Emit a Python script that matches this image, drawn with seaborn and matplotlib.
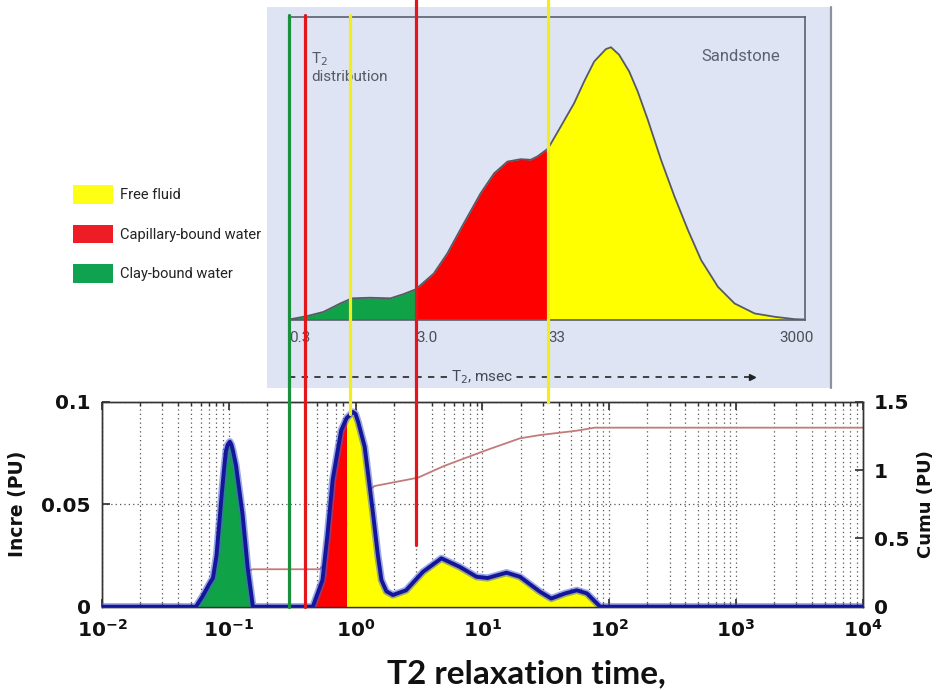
import numpy as np
import matplotlib
matplotlib.use("Agg")
import matplotlib.pyplot as plt
import matplotlib.transforms as mtransforms
from matplotlib.patches import Rectangle, Patch
from matplotlib.lines import Line2D
from matplotlib.ticker import LogLocator, NullLocator
import seaborn as sns

# ---------------------------------------------------------------------------
# Upper panel: idealised sandstone T2 distribution (relative amplitude)
top_t2 = [0.3, 0.414, 0.56, 0.76, 0.94, 1.3, 1.89, 2.4, 3.0, 4.15, 5.3, 7.16,
          9.71, 12.4, 15.8, 20.1, 24.1, 27.2, 33, 41.6, 53, 63.6, 76.3, 94.4,
          103.5, 120, 144, 168, 202, 257, 328, 418, 532, 721, 975, 1403,
          2019, 2910, 3500]
top_amp = [0.0, 0.011, 0.025, 0.053, 0.070, 0.072, 0.070, 0.084, 0.100, 0.152,
           0.218, 0.318, 0.417, 0.483, 0.522, 0.530, 0.528, 0.539, 0.565,
           0.638, 0.715, 0.787, 0.853, 0.894, 0.900, 0.875, 0.820, 0.754,
           0.660, 0.527, 0.406, 0.296, 0.196, 0.108, 0.053, 0.020, 0.009,
           0.001, 0.0]
top_zone_edges = [0.3, 3.0, 33, 3500]
top_tick_values = [0.3, 3.0, 33, 3000]
top_tick_labels = ["0.3", "3.0", "33", "3000"]

# Lower panel: measured incremental and cumulative T2 spectrum
t2_ms = [0.01, 0.055, 0.062, 0.07, 0.075, 0.08, 0.088, 0.092, 0.095, 0.098,
         0.102, 0.105, 0.108, 0.114, 0.1285, 0.141, 0.155, 0.46, 0.548, 0.6,
         0.66, 0.77, 0.85, 0.9, 0.953, 1.0, 1.05, 1.18, 1.37, 1.5, 1.6, 1.75,
         1.97, 2.5, 3.4, 4.75, 6.6, 9.0, 11.0, 15.5, 19.8, 28.5, 35, 45, 55.6,
         66.7, 85, 10000]
incre_pu = [0.0, 0.0, 0.005, 0.011, 0.014, 0.025, 0.055, 0.068, 0.076, 0.079,
            0.0805, 0.079, 0.076, 0.069, 0.045, 0.019, 0.0, 0.0, 0.013, 0.035,
            0.062, 0.086, 0.092, 0.0935, 0.095, 0.094, 0.09, 0.078, 0.046,
            0.025, 0.013, 0.0075, 0.0057, 0.008, 0.017, 0.0236, 0.0195,
            0.0146, 0.014, 0.0166, 0.0146, 0.0073, 0.004, 0.0065, 0.008,
            0.0065, 0.0, 0.0]
cumu_t2_ms = [0.01, 0.055, 0.08, 0.1, 0.12, 0.155, 0.52, 0.7, 0.9, 1.1, 1.41,
              2.0, 3.1, 5.0, 10.8, 19.8, 28.5, 55.6, 77, 10000]
cumu_pu = [0.0, 0.0, 0.05, 0.15, 0.24, 0.274, 0.274, 0.40, 0.65, 0.80, 0.883,
           0.91, 0.944, 1.03, 1.146, 1.232, 1.256, 1.288, 1.31, 1.31]
clay_range = (0.055, 0.155)
capillary_range = (0.46, 0.85)
free_range = (0.85, 85)

# T2 cutoffs drawn across both panels
cutoff_t2 = [0.3, 0.4, 0.9, 3.0, 33]
cutoff_colors = ["#1a8f3c", "#e3161c", "#f2ee1e", "#e3161c", "#f2ee1e"]
cutoff_reach_pu = [0.0, 0.0, 0.094, 0.030, 0.1]
cutoff_from_box = [True, True, True, False, False]

legend_labels = ["Free fluid", "Capillary-bound water", "Clay-bound water"]
legend_colors = ["#ffff14", "#ee1c24", "#0fa24f"]

# ---------------------------------------------------------------------------
YELLOW, RED, GREEN = "#ffff00", "#ff0000", "#10a246"
PANEL = "#dfe4f4"
NARROW = ["Roboto", "DejaVu Sans"]

sns.set_theme(style="white")
plt.rcParams["font.family"] = ["DejaVu Sans"]
plt.rcParams["mathtext.fontset"] = "dejavusans"

W, H = 939, 690
fig = plt.figure(figsize=(W / 100, H / 100), dpi=100)
fig.patch.set_facecolor("white")


def rect(x0, y0, x1, y1):
    return [x0 / W, 1 - y1 / H, (x1 - x0) / W, (y1 - y0) / H]


# lavender backdrop of the schematic
fig.add_artist(Rectangle((267 / W, 1 - 388 / H), 565 / W, 381 / H,
                         transform=fig.transFigure, facecolor=PANEL,
                         edgecolor="none", zorder=-2))
fig.add_artist(Line2D([831 / W, 831 / W], [1 - 388 / H, 1 - 7 / H],
                      transform=fig.transFigure, color="#8d929c", lw=1.6,
                      zorder=-1))

# ---------------- upper schematic ----------------
ax_top = fig.add_axes(rect(289, 17, 805, 319.5))
ax_top.set_facecolor(PANEL)
ax_top.set_xscale("log")
t_top = np.array(top_t2)
a_top = np.array(top_amp)
for (lo, hi), col in zip(zip(top_zone_edges[:-1], top_zone_edges[1:]),
                         [GREEN, RED, YELLOW]):
    m = (t_top >= lo) & (t_top <= hi)
    ax_top.fill_between(t_top[m], 0, a_top[m], color=col, lw=0, zorder=1)
sns.lineplot(x=top_t2, y=top_amp, ax=ax_top, color="#555b66", lw=1.3,
             estimator=None, sort=False, zorder=2)
ax_top.set_xlim(top_zone_edges[0], top_zone_edges[-1])
ax_top.set_ylim(0, 1)
ax_top.set_xticks([])
ax_top.xaxis.set_minor_locator(NullLocator())
ax_top.set_yticks([])
ax_top.set_xlabel("")
ax_top.set_ylabel("")
for sp in ax_top.spines.values():
    sp.set_color("#5a5f6a")
    sp.set_linewidth(1.2)

tb = mtransforms.blended_transform_factory(ax_top.transData, ax_top.transAxes)
for v, lab in zip(top_tick_values, top_tick_labels):
    ax_top.text(v, -0.062, lab, transform=tb, ha="left" if v < 1000 else "center",
                va="center", family=NARROW, fontsize=11, color="#4a4f58",
                clip_on=False)
ax_top.text(0.043, 0.89, "T$_2$\ndistribution", transform=ax_top.transAxes,
            ha="left", va="top", family=NARROW, fontsize=11, color="#555a63",
            linespacing=1.15)
ax_top.text(0.875, 0.868, "Sandstone", transform=ax_top.transAxes,
            ha="center", va="center", family=NARROW, fontsize=12,
            color="#5a6270")

# dashed T2 axis arrow
ax_top.plot([0.3, 1300], [-0.19, -0.19], transform=tb, ls=(0, (3.5, 3.5)),
            lw=1.3, color="#333333", clip_on=False)
ax_top.plot([1340], [-0.19], transform=tb, marker=">", ms=5, color="#222222",
            clip_on=False)
ax_top.text(0.375, -0.19, "T$_2$, msec", transform=ax_top.transAxes,
            ha="center", va="center", family=NARROW, fontsize=11,
            color="#444a55", clip_on=False,
            bbox=dict(facecolor=PANEL, edgecolor="none", pad=1))

# ---------------- lower spectrum ----------------
ax_cum = fig.add_axes(rect(102, 401.7, 862.7, 606.7))
ax_cum.set_xscale("log")
sns.lineplot(x=cumu_t2_ms, y=cumu_pu, ax=ax_cum, color="#c27b7b", lw=1.3,
             estimator=None, sort=False)
ax_cum.set_xlim(1e-2, 1e4)
ax_cum.set_ylim(0, 1.5)

ax_inc = ax_cum.twinx()
ax_inc.set_xscale("log")
t = np.array(t2_ms)
v = np.array(incre_pu)
for (lo, hi), col in zip([clay_range, capillary_range, free_range],
                         [GREEN, RED, YELLOW]):
    m = (t >= lo) & (t <= hi)
    ax_inc.fill_between(t[m], 0, v[m], color=col, lw=0, zorder=1)
sns.lineplot(x=t2_ms, y=incre_pu, ax=ax_inc, color="#4a63d8", lw=5.2,
             alpha=0.55, estimator=None, sort=False, zorder=3)
sns.lineplot(x=t2_ms, y=incre_pu, ax=ax_inc, color="#15159a", lw=2.8,
             estimator=None, sort=False, zorder=4)
ax_inc.set_xlim(1e-2, 1e4)
ax_inc.set_ylim(0, 0.1)

# axes furniture
ax_inc.yaxis.tick_left()
ax_inc.yaxis.set_label_position("left")
ax_cum.yaxis.tick_right()
ax_cum.yaxis.set_label_position("right")

tick_font = dict(fontsize=14.5, fontweight="bold", color="#111111")
ax_inc.set_yticks([0, 0.05, 0.1])
ax_inc.set_yticklabels(["0", "0.05", "0.1"], **tick_font)
ax_cum.set_yticks([0, 0.5, 1, 1.5])
ax_cum.set_yticklabels(["0", "0.5", "1", "1.5"], **tick_font)
decades = [-2, -1, 0, 1, 2, 3, 4]
ax_cum.set_xticks([10.0 ** d for d in decades])
ax_cum.set_xticklabels([r"$\mathbf{10^{%d}}$" % d for d in decades],
                       **tick_font)
ax_cum.xaxis.set_minor_locator(LogLocator(base=10, subs=np.arange(2, 10)))

ax_cum.tick_params(axis="x", which="major", direction="in", length=6,
                   top=True, bottom=True, pad=9, color="#333333")
ax_cum.tick_params(axis="x", which="minor", direction="in", length=3,
                   top=True, bottom=True, color="#333333")
ax_cum.tick_params(axis="y", direction="in", length=6, right=True, left=False,
                   pad=8, color="#333333")
ax_inc.tick_params(axis="y", direction="in", length=6, left=True, right=False,
                   pad=8, color="#333333")

ax_cum.grid(True, which="both", axis="x", ls=(0, (1, 2.5)), lw=0.9,
            color="#555555")
ax_cum.grid(False, axis="y")
ax_inc.set_axisbelow(True)
ax_inc.grid(True, axis="y", ls=(0, (1, 2.5)), lw=0.9, color="#555555")
ax_inc.grid(False, axis="x")

for ax in (ax_cum, ax_inc):
    for sp in ax.spines.values():
        sp.set_color("#333333")
        sp.set_linewidth(1.0)

ax_cum.set_xlabel("")
ax_inc.set_ylabel("Incre (PU)", fontsize=13.5, fontweight="bold",
                  color="#111111")
ax_inc.yaxis.set_label_coords(-0.098, 0.5)
ax_cum.set_ylabel("Cumu (PU)", fontsize=13, fontweight="bold",
                  color="#111111")
ax_cum.yaxis.set_label_coords(1.071, 0.5)

fig.text(526 / W, 1 - 683 / H, "T2 relaxation time,", ha="center",
         va="baseline", family=["Lato", "DejaVu Sans"], fontweight="bold",
         fontsize=24, color="#111111")

# ---------------- legend ----------------
handles = [Patch(facecolor=c, edgecolor="none") for c in legend_colors]
fs = 10.5
fs_px = fs * 100 / 72
fig.legend(handles, legend_labels, loc="upper left",
           bbox_to_anchor=(73 / W, 1 - 185 / H), frameon=False,
           prop={"family": NARROW, "size": fs}, labelcolor="#222222",
           handlelength=40 / fs_px, handleheight=23 / fs_px,
           labelspacing=(44 - 23) / fs_px, handletextpad=7 / fs_px,
           borderpad=0, borderaxespad=0)

# ---------------- cutoff lines through both panels ----------------
to_fig = fig.transFigure.inverted()
xfig = mtransforms.blended_transform_factory(ax_inc.transData, fig.transFigure)
box_top = ax_top.get_position().y1 + 2 / H
for tc, col, reach, from_box in zip(cutoff_t2, cutoff_colors, cutoff_reach_pu,
                                     cutoff_from_box):
    y_bot = to_fig.transform(ax_inc.transData.transform((tc, reach)))[1]
    y_top = box_top if from_box else 1.0
    fig.add_artist(Line2D([tc, tc], [y_bot, y_top], transform=xfig,
                          color=col, lw=2.3, zorder=5))

fig.savefig("out.png", dpi=100, facecolor="white")
